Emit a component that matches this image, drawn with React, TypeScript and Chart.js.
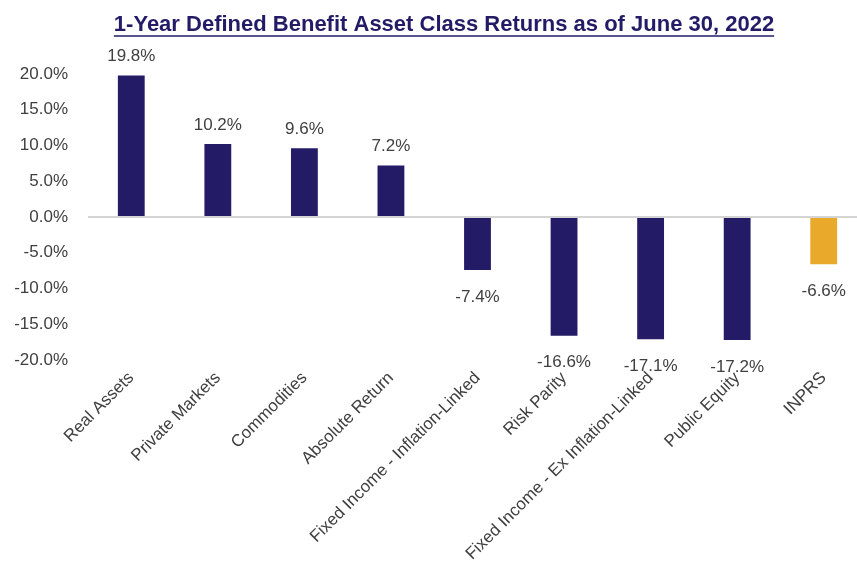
import React, { useEffect, useRef } from "react";
import { Chart, registerables } from "chart.js";

Chart.register(...registerables);

const TITLE = "1-Year Defined Benefit Asset Class Returns as of June 30, 2022";
const categories = [
  "Real Assets",
  "Private Markets",
  "Commodities",
  "Absolute Return",
  "Fixed Income - Inflation-Linked",
  "Risk Parity",
  "Fixed Income - Ex Inflation-Linked",
  "Public Equity",
  "INPRS",
];
const returns = [19.8, 10.2, 9.6, 7.2, -7.4, -16.6, -17.1, -17.2, -6.6];
const barColors = ["#231B66", "#231B66", "#231B66", "#231B66", "#231B66", "#231B66", "#231B66", "#231B66", "#E9AA2B"];
const yMin = -20;
const yMax = 20;
const yStep = 5;

const TEXT_FONT = "'Liberation Sans', Arial, sans-serif";
const TITLE_FONT = "'Liberation Sans Narrow', 'Arial Narrow', 'Liberation Sans', Arial, sans-serif";

const titlePlugin = {
  id: "underlinedTitle",
  afterDraw(chart: any) {
    const ctx = chart.ctx;
    ctx.save();
    ctx.font = `bold 22px ${TITLE_FONT}`;
    ctx.fillStyle = "#231B66";
    ctx.textAlign = "center";
    ctx.textBaseline = "alphabetic";
    const cx = 444;
    const by = 31;
    ctx.fillText(TITLE, cx, by);
    const w = ctx.measureText(TITLE).width;
    ctx.strokeStyle = "#231B66";
    ctx.lineWidth = 1.5;
    ctx.beginPath();
    ctx.moveTo(cx - w / 2, by + 5);
    ctx.lineTo(cx + w / 2, by + 5);
    ctx.stroke();
    ctx.restore();
  },
};

const valueLabelPlugin = {
  id: "valueLabels",
  afterDatasetsDraw(chart: any) {
    const ctx = chart.ctx;
    const meta = chart.getDatasetMeta(0);
    ctx.save();
    ctx.font = `17px ${TEXT_FONT}`;
    ctx.fillStyle = "#404040";
    ctx.textAlign = "center";
    ctx.textBaseline = "middle";
    meta.data.forEach((bar: any, i: number) => {
      const v = returns[i];
      const y = v >= 0 ? bar.y - 19 : bar.y + 27;
      ctx.fillText(v.toFixed(1) + "%", bar.x, y);
    });
    ctx.restore();
  },
};

export default function App() {
  const ref = useRef<HTMLCanvasElement>(null);
  useEffect(() => {
    if (!ref.current) return;
    const chart = new Chart(ref.current, {
      type: "bar",
      data: {
        labels: categories,
        datasets: [
          {
            data: returns,
            backgroundColor: barColors,
            borderWidth: 0,
            barPercentage: 0.31,
            categoryPercentage: 1,
          },
        ],
      },
      options: {
        animation: false,
        responsive: true,
        maintainAspectRatio: false,
        layout: { padding: { top: 74, right: 3, left: 0, bottom: 0 } },
        plugins: {
          legend: { display: false },
          tooltip: { enabled: false },
          title: { display: false },
        },
        scales: {
          x: {
            grid: { display: false, drawTicks: false },
            border: { display: false },
            ticks: {
              color: "#404040",
              font: { family: TEXT_FONT, size: 17 },
              maxRotation: 45,
              minRotation: 45,
              autoSkip: false,
              padding: 8,
            },
            afterFit(scale: any) {
              scale.height = 202;
            },
          },
          y: {
            min: yMin,
            max: yMax,
            grid: {
              drawTicks: false,
              color: (c: any) => (c.tick && c.tick.value === 0 ? "#D4D4D4" : "rgba(0,0,0,0)"),
              lineWidth: 2,
            },
            border: { display: false },
            ticks: {
              stepSize: yStep,
              color: "#404040",
              font: { family: TEXT_FONT, size: 17 },
              padding: 20,
              callback: (v: any) => Number(v).toFixed(1) + "%",
            },
            afterFit(scale: any) {
              scale.width = 88;
            },
          },
        },
      },
      plugins: [titlePlugin, valueLabelPlugin],
    });
    return () => chart.destroy();
  }, []);
  return (
    <div style={{ position: "fixed", left: 0, top: 0, width: 870, height: 562, background: "#fff" }}>
      <canvas ref={ref} />
    </div>
  );
}
